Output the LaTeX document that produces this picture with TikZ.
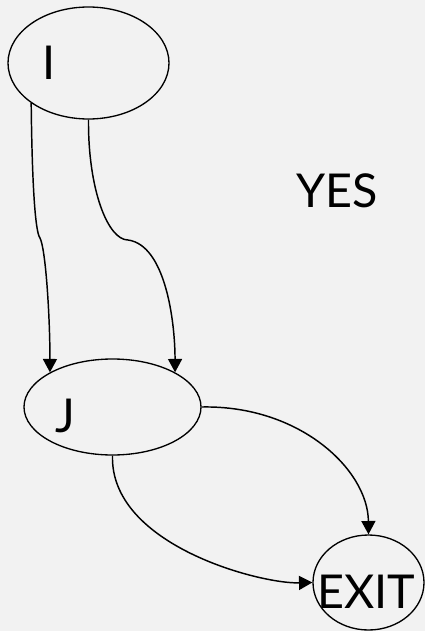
\documentclass[tikz,border=0pt]{standalone}
\usepackage{fontspec}
\setmainfont{Lato}
\usetikzlibrary{shapes.geometric,arrows.meta}
\definecolor{bg}{HTML}{F2F2F2}
\begin{document}
\begin{tikzpicture}[x=0.75pt,y=-0.75pt,
  state/.style={ellipse,draw=black,line width=1pt,inner sep=0pt},
  lbl/.style={anchor=base,inner sep=0pt,font=\fontsize{35}{40}\selectfont},
  edge/.style={draw=black,line width=1.1pt,-{Triangle[length=10pt,width=10.5pt]}}]
\fill[bg] (0,0) rectangle (425,631);
\useasboundingbox (0,0) rectangle (425,631);
% states
\node[state,minimum width=120.75pt,minimum height=84pt] (I) at (88.5,63) {};
\node[state,minimum width=132.75pt,minimum height=72pt] (J) at (112.5,407) {};
\node[state,minimum width=83.25pt,minimum height=71.25pt] (EXIT) at (368.5,582.5) {};
% labels
\node[lbl] (tI) at (49.5,80) {I};
\node[lbl] (tJ) at (65,432) {J};
\node[lbl] (tEXIT) at (366.5,608) {EXIT};
\node[lbl] (tYES) at (337,207) {YES};
% kink points
\coordinate (k1) at (40,238);
\coordinate (k2) at (128,240);
% edges
\draw[edge] (I.215) .. controls (32,180) and (35,232) .. (k1)
  .. controls (46,250) and (50,320) .. (J.151);
\draw[edge] (I.south) .. controls (88,190) and (108,240) .. (k2)
  .. controls (165,245) and (175,320) .. (J.29);
\draw[edge] (J.east) .. controls (300,405) and (368,470) .. (EXIT.north);
\draw[edge] (J.south) .. controls (110,545) and (260,584) .. (EXIT.west);
\end{tikzpicture}
\end{document}
